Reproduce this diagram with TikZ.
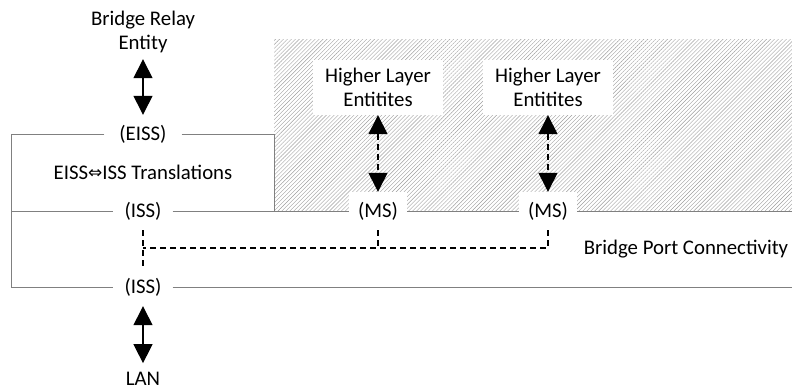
\documentclass[tikz,border=0pt]{standalone}
\usepackage{fontspec}
\setmainfont{Carlito}
\usetikzlibrary{arrows.meta,patterns.meta}
\begin{document}
\begin{tikzpicture}[x=1pt,y=-1pt,
  lbl/.style={font=\fontsize{20.8}{24.5}\selectfont, inner sep=0, align=center},
  port/.style={lbl, fill=white, minimum height=38},
  frame/.style={draw=black!50, line width=0.8pt},
  bigarrow/.style={line width=1.4pt, {Triangle[width=19pt,length=19pt]}-{Triangle[width=19pt,length=19pt]}},
  dasharrow/.style={bigarrow, dash pattern=on 6pt off 4pt},
  conn/.style={line width=1.4pt, dash pattern=on 6pt off 4pt}]
\useasboundingbox (0,0) rectangle (792,390);
\fill[pattern={Lines[angle=45,distance=2.8pt,line width=0.4pt]}, pattern color=black!38] (274,40) rectangle (792,211);
\node[lbl, minimum height=54] (bre) at (143,32) {Bridge Relay\\Entity};
\node[port, minimum width=77] (eiss) at (143,134) {(EISS)};
\node[lbl] (trans) at (143,172) {EISS\raisebox{0.05em}{\fontspec{DejaVu Sans}\fontsize{17}{17}\selectfont ⇔}ISS Translations};
\node[port, minimum width=59] (iss1) at (143,211) {(ISS)};
\node[port, minimum width=59] (iss2) at (143,287) {(ISS)};
\node[lbl] (lan) at (143,379) {LAN};
\node[lbl, fill=white, minimum width=130, minimum height=55] (hle1) at (378,87.5) {Higher Layer\\Entitites};
\node[lbl, fill=white, minimum width=130, minimum height=55] (hle2) at (548,87.5) {Higher Layer\\Entitites};
\node[port, minimum width=58] (ms1) at (378,211) {(MS)};
\node[port, minimum width=58] (ms2) at (548,211) {(MS)};
\node[lbl] (bpc) at (686,249) {Bridge Port Connectivity};
\coordinate (jn) at (143,248);
\draw[frame] (eiss.west) -- (11,134) -- (11,287) -- (iss2.west);
\draw[frame] (eiss.east) -- (274,134) -- (274,211);
\draw[frame] (11,211) -- (iss1.west);
\draw[frame] (iss1.east) -- (ms1.west);
\draw[frame] (ms1.east) -- (ms2.west);
\draw[frame] (ms2.east) -- (792,211);
\draw[frame] (iss2.east) -- (792,287);
\draw[bigarrow] (bre) -- (eiss);
\draw[bigarrow, shorten >=9pt] (iss2) -- (lan);
\draw[dasharrow] (hle1) -- (ms1);
\draw[dasharrow] (hle2) -- (ms2);
\draw[conn] (iss1) -- (iss2);
\draw[conn] (ms1) |- (jn);
\draw[conn] (ms2) |- (jn);
\end{tikzpicture}
\end{document}
